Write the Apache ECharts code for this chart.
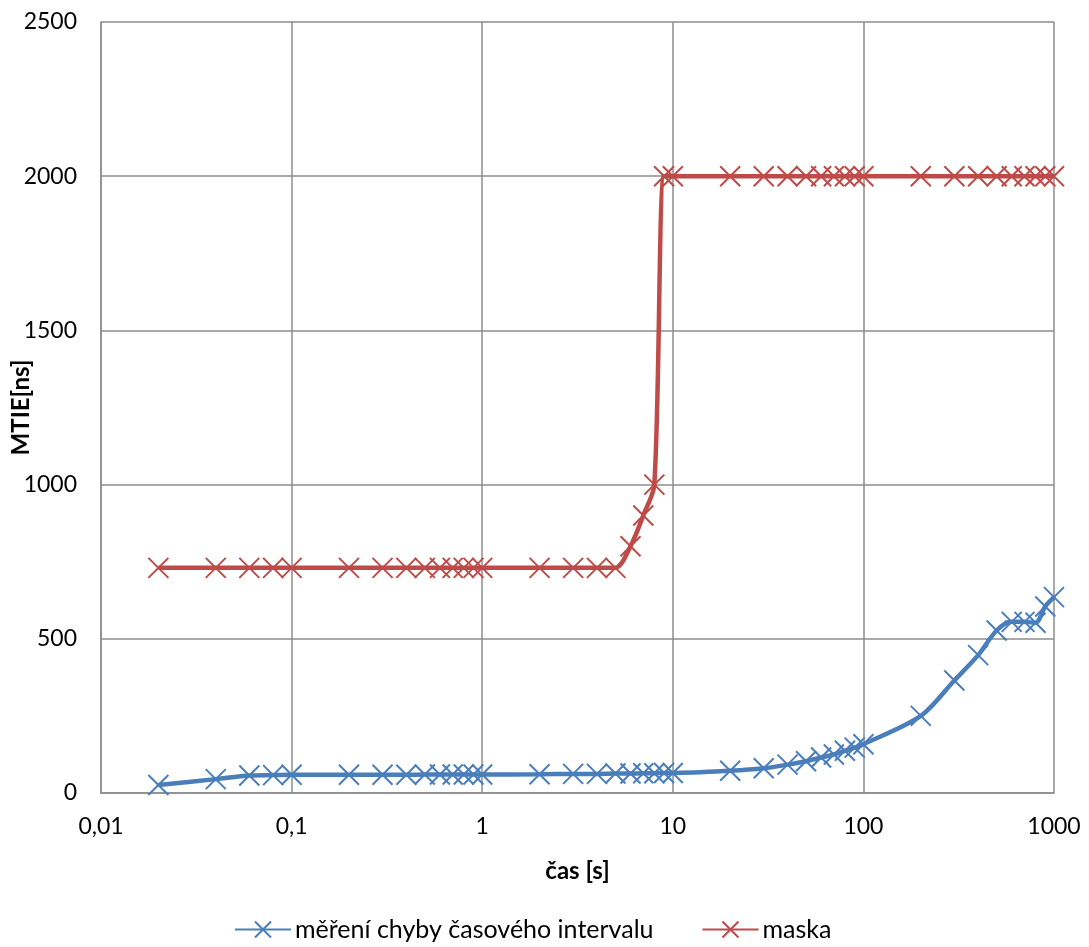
<!DOCTYPE html>
<html>
<head>
<meta charset="utf-8">
<script src="https://cdn.jsdelivr.net/npm/echarts@6/dist/echarts.min.js"></script>
<style>
html,body{margin:0;padding:0;background:#fff;}
#chart{width:1089px;height:947px;}
</style>
</head>
<body>
<div id="chart"></div>
<script>
const tau = [0.02,0.04,0.06,0.08,0.1,0.2,0.3,0.4,0.5,0.6,0.7,0.8,0.9,1,2,3,4,5,6,7,8,9,10,20,30,40,50,60,70,80,90,100,200,300,400,500,600,700,800,900,1000];
const measured = [26,45,57,58,59,59,59,59,60,60,60,60,60,60,61,62,62,63,63,64,64,65,65,72,80,92,103,115,125,137,147,158,250,365,447,527,555,555,552,605,635];
const mask = [730,730,730,730,730,730,730,730,730,730,730,730,730,730,730,730,730,730,800,900,1000,2000,2000,2000,2000,2000,2000,2000,2000,2000,2000,2000,2000,2000,2000,2000,2000,2000,2000,2000,2000];
const seriesNames = ['měření chyby časového intervalu','maska'];
const xTickLabels = {'0.01':'0,01','0.1':'0,1','1':'1','10':'10','100':'100','1000':'1000'};

const blue = '#4A7EBB';
const red = '#BE4B48';
const gridColor = '#8C8C8C';
const font = 'Lato, "Open Sans", sans-serif';
const xSym = 'path://M0,0L20,20M20,0L0,20';

function pairs(xs, ys){ return xs.map((x,i)=>[x, ys[i]]); }

const chart = echarts.init(document.getElementById('chart'));
chart.setOption({
  animation:false,
  backgroundColor:'#fff',
  textStyle:{fontFamily:font},
  grid:{left:101,right:35,top:22,bottom:154,containLabel:false,outerBoundsMode:'none'},
  xAxis:{
    type:'log', logBase:10, min:0.01, max:1000,
    name:'čas [s]', nameLocation:'middle', nameGap:66, nameMoveOverlap:false,
    nameTextStyle:{fontSize:24,fontWeight:'bold',color:'#000',fontFamily:font},
    axisLine:{show:true,lineStyle:{color:gridColor,width:1.5}},
    axisTick:{show:false},
    axisLabel:{fontSize:23,color:'#000',margin:22,fontFamily:font,
      formatter:v=>{const k=String(Number(v.toPrecision(6)));return xTickLabels[k]!==undefined?xTickLabels[k]:k.replace('.',',');}},
    splitLine:{show:true,lineStyle:{color:gridColor,width:1.5}},
    minorSplitLine:{show:false}
  },
  yAxis:{
    type:'value', min:0, max:2500, interval:500,
    name:'MTIE[ns]', nameLocation:'middle', nameGap:68, nameMoveOverlap:false,
    nameTextStyle:{fontSize:24,fontWeight:'bold',color:'#000',fontFamily:font},
    axisLine:{show:true,lineStyle:{color:gridColor,width:1.5}},
    axisTick:{show:false},
    axisLabel:{fontSize:23,color:'#000',margin:24,fontFamily:font,formatter:v=>String(v)},
    splitLine:{show:true,lineStyle:{color:gridColor,width:1.5}}
  },
  legend:{
    bottom:5, left:234, padding:0, itemWidth:56, itemHeight:20, itemGap:48,
    textStyle:{fontSize:25,color:'#000',fontFamily:font,padding:[0,0,0,-1]},
    data:seriesNames
  },
  series:[
    {name:seriesNames[0],type:'line',smooth:0.3,data:pairs(tau,measured),
     symbol:xSym,symbolSize:20,showAllSymbol:true,
     lineStyle:{color:blue,width:4.5},
     itemStyle:{color:blue,borderColor:blue,borderWidth:2}},
    {name:seriesNames[1],type:'line',smooth:0.3,data:pairs(tau,mask),
     symbol:xSym,symbolSize:20,showAllSymbol:true,
     lineStyle:{color:red,width:4.5},
     itemStyle:{color:red,borderColor:red,borderWidth:2}}
  ]
});
</script>
</body>
</html>
